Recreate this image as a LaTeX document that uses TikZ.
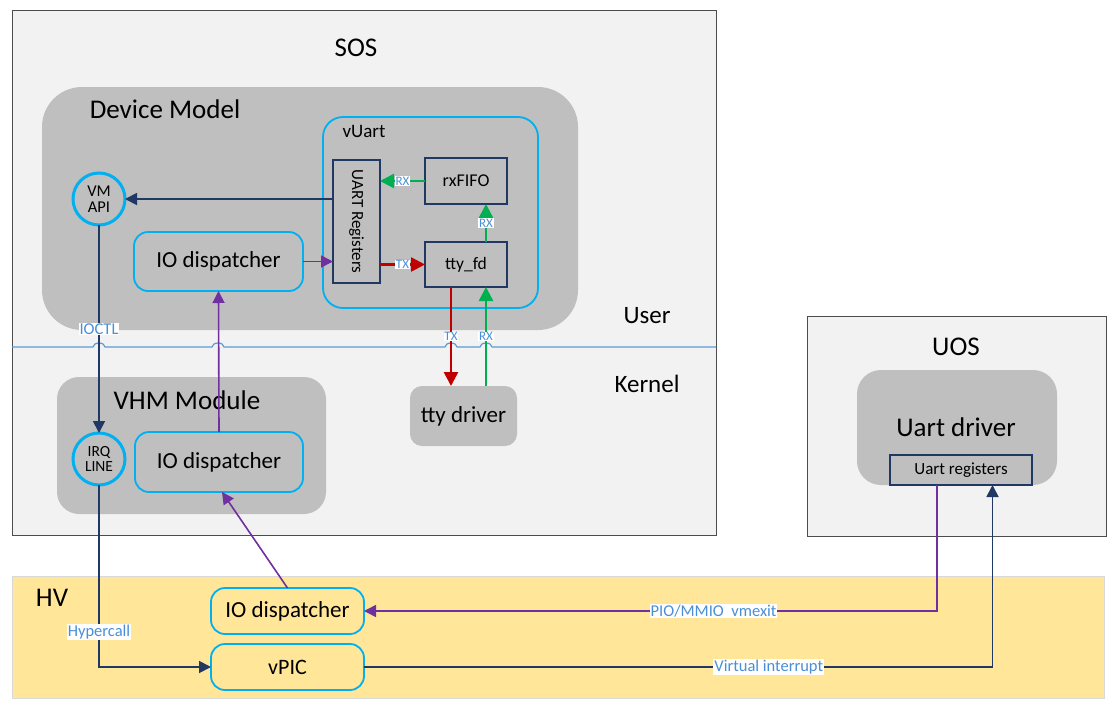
\documentclass[tikz,border=0pt]{standalone}
\usepackage{fontspec}
\setmainfont{Carlito}
\usetikzlibrary{arrows.meta,calc}
\definecolor{cyanc}{HTML}{00B0F0}
\definecolor{navyc}{HTML}{1F3864}
\definecolor{purplec}{HTML}{7030A0}
\definecolor{greenc}{HTML}{00B050}
\definecolor{redc}{HTML}{C00000}
\definecolor{grayfill}{HTML}{BFBFBF}
\definecolor{lightfill}{HTML}{F2F2F2}
\definecolor{hvfill}{HTML}{FFE699}
\definecolor{lblc}{HTML}{4A8FD6}
\definecolor{divc}{HTML}{5B9BD5}
\newcommand{\fs}[1]{\fontsize{#1}{#1}\selectfont}
\tikzset{
  box/.style={inner sep=0pt, outer sep=0pt},
  outerbox/.style={box, draw=black!70, fill=lightfill, line width=1pt},
  graybox/.style={box, fill=grayfill},
  cyanbox/.style={box, draw=cyanc, line width=1.8pt, rounded corners=14pt},
  navybox/.style={box, draw=navyc, line width=2pt},
  circ/.style={circle, box, draw=cyanc, line width=3pt, minimum size=52pt, align=center, font=\fs{16.5}},
  lbl/.style={fill=white, text=lblc, font=\fs{16.5}, inner sep=1pt},
  sl/.style={fill=white, text=lblc, font=\fs{13}, inner sep=0.8pt},
  tip/.style={-{Triangle[length=12pt,width=12pt]}},
  bigtip/.style={-{Triangle[length=14pt,width=14pt]}},
  navyline/.style={draw=navyc, line width=1.8pt},
  purpleline/.style={draw=purplec, line width=1.6pt},
  greenline/.style={draw=greenc, line width=2.6pt},
  redline/.style={draw=redc, line width=2.6pt},
}
\begin{document}
\begin{tikzpicture}[x=1pt,y=-1pt]
\useasboundingbox (0,0) rectangle (1117,715);
% containers
\node[outerbox, minimum width=704pt, minimum height=525pt] (sos) at (364,272.5) {};
\node[font=\fs{27}] (sostxt) at (356,48) {SOS};
\node[graybox, rounded corners=40pt, minimum width=536pt, minimum height=243pt] (dm) at (310,208.5) {};
\node[font=\fs{27}] (dmtxt) at (165,109) {Device Model};
\node[cyanbox, rounded corners=20pt, minimum width=215pt, minimum height=191pt] (vuart) at (430.5,212.5) {};
\node[font=\fs{19}] (vuarttxt) at (364,131) {vUart};
\node[navybox, minimum width=47pt, minimum height=123pt] (uartreg) at (356.5,221.5) {};
\node[rotate=-90, font=\fs{17}] (uartregtxt) at (356.5,221.5) {UART Registers};
\node[navybox, minimum width=82pt, minimum height=46pt, font=\fs{18}] (rxfifo) at (466,181) {rxFIFO};
\node[navybox, minimum width=82pt, minimum height=45pt, font=\fs{17.5}] (ttyfd) at (466,264.5) {tty\_fd};
\node[circ] (vmapi) at (99,199) {VM\\[-1pt]API};
\node[cyanbox, minimum width=169pt, minimum height=59pt, font=\fs{23}] (iodm) at (218.5,261.5) {IO dispatcher};
\node[graybox, rounded corners=22pt, minimum width=269pt, minimum height=137pt] (vhm) at (191.5,445.5) {};
\node[font=\fs{27}] (vhmtxt) at (187,400) {VHM Module};
\node[circ, font=\fs{15.5}] (irq) at (99,459) {IRQ\\[-1pt]LINE};
\node[cyanbox, minimum width=168pt, minimum height=60pt, font=\fs{23}] (iovhm) at (219,462) {IO dispatcher};
\node[graybox, rounded corners=12pt, minimum width=107pt, minimum height=60pt, font=\fs{23}] (ttydrv) at (463.5,416) {tty driver};
\node[font=\fs{25}] (user) at (647,316) {User};
\node[font=\fs{25}] (kernel) at (647,384) {Kernel};
% UOS
\node[outerbox, minimum width=299pt, minimum height=220pt] (uos) at (956.5,426) {};
\node[font=\fs{27}] (uostxt) at (956,347) {UOS};
\node[graybox, rounded corners=24pt, minimum width=200pt, minimum height=115pt] (udrv) at (957,427.5) {};
\node[font=\fs{27}] (udrvtxt) at (956,427) {Uart driver};
\node[navybox, minimum width=142pt, minimum height=30pt, font=\fs{17}] (uregs) at (961,470) {Uart registers};
% HV
\node[box, draw=black!15, fill=hvfill, line width=1pt, minimum width=1092pt, minimum height=122pt] (hv) at (558,637) {};
\node[font=\fs{27}] (hvtxt) at (52,598) {HV};
\node[cyanbox, minimum width=153pt, minimum height=46pt, font=\fs{23}] (iohv) at (287.5,611) {IO dispatcher};
\node[cyanbox, minimum width=153pt, minimum height=46pt, font=\fs{22}] (vpic) at (287.5,667) {vPIC};
% user/kernel divider with hops
\draw[divc, line width=1.2pt] (12,347) -- (93,347) arc[start angle=180,end angle=360,x radius=6,y radius=4]
  -- (212,347) arc[start angle=180,end angle=360,x radius=6,y radius=4]
  -- (445,347) arc[start angle=180,end angle=360,x radius=6,y radius=4]
  -- (480,347) arc[start angle=180,end angle=360,x radius=6,y radius=4]
  -- (716,347);
% vUart internal connectors
\draw[greenline, bigtip] (rxfifo.west) -- node[sl]{RX} (uartreg.east |- rxfifo.west);
\draw[greenline, bigtip] ([xshift=20pt]ttyfd.north) -- node[sl]{RX} ([xshift=20pt]rxfifo.south);
\draw[redline, bigtip] (uartreg.east |- ttyfd.west) -- node[sl]{TX} (ttyfd.west);
\draw[redline, bigtip] ([xshift=-15pt]ttyfd.south) -- node[sl]{TX} ([xshift=-15pt]ttyfd.south |- ttydrv.north);
\draw[greenline, bigtip] ([xshift=20pt]ttyfd.south |- ttydrv.north) -- node[sl]{RX} ([xshift=20pt]ttyfd.south);
% Device model connectors
\draw[navyline, tip] (uartreg.west |- vmapi.east) -- (vmapi.east);
\draw[purpleline, tip] (iodm.east) -- (uartreg.west |- iodm.east);
\draw[navyline, tip] (vmapi.south) -- node[lbl, pos=0.5]{IOCTL} (irq.north);
\draw[purpleline, tip] (iovhm.north) -- (iodm.south);
\draw[purpleline, tip] (iohv.north) -- ([xshift=3pt]iovhm.south);
\draw[navyline, tip] (irq.south) -- node[lbl, pos=0.81]{Hypercall} (irq.south |- vpic.west) -- (vpic.west);
% UOS connectors
\coordinate (pm) at ([xshift=-24pt]uregs.south);
\coordinate (vi) at ([xshift=31.5pt]uregs.south);
\draw[purpleline, tip] (pm) -- (pm |- iohv.east) -- node[lbl, pos=0.39]{PIO/MMIO\ \ vmexit} (iohv.east);
\draw[navyline, tip] (vpic.east) -- node[lbl, pos=0.644]{Virtual interrupt} (vi |- vpic.east) -- (vi);
\end{tikzpicture}
\end{document}
